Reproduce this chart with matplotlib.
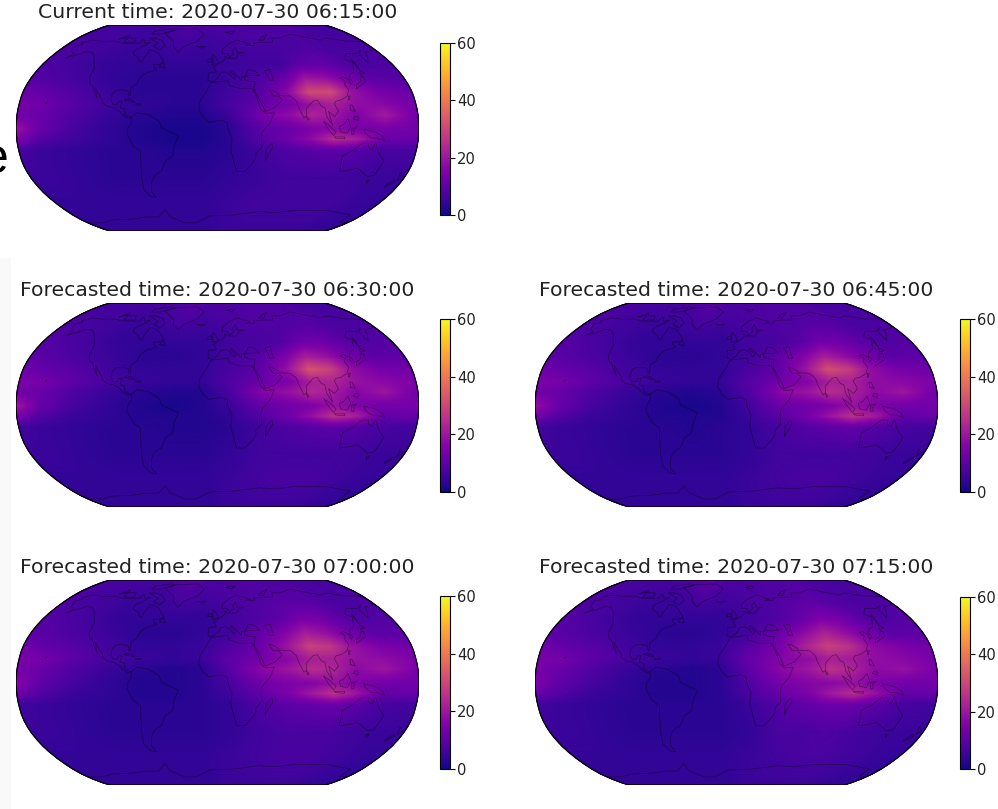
import numpy as np
import matplotlib
matplotlib.use('Agg')
import matplotlib.pyplot as plt
from matplotlib.cm import ScalarMappable
from matplotlib.colors import Normalize
from matplotlib.patches import Polygon, Rectangle

W, H = 998, 809

# grid nodes of the field tables below
grid_lons = [-180, -160, -130, -100, -70, -40, -15, 10, 40, 65, 85, 105, 125, 150, 180]
grid_lats = [90, 65, 50, 38, 28, 18, 10, -1, -9, -18, -40, -60, -90]

field_0615 = [
    [6, 6, 6, 6, 7, 9, 8, 8, 8, 8, 8, 8, 7, 6, 6],
    [7, 7, 6, 5, 5, 6, 5, 6, 7, 7, 7, 8, 7, 7, 7],
    [8, 7, 5, 4, 4, 4, 4, 5, 6, 6, 10, 11, 9, 7, 8],
    [9, 8, 6, 4, 3, 3, 3, 5, 8, 12, 21, 19, 14, 10, 9],
    [12, 11, 8, 5, 3, 3, 3, 6, 9, 17, 31, 31, 19, 14, 12],
    [14, 13, 9, 6, 4, 3, 3, 7, 11, 14, 19, 22, 18, 17, 13],
    [13, 12, 8, 5, 3, 2, 2, 5, 14, 18, 23, 20, 15, 21, 13],
    [20, 12, 7, 4, 2, 1, 1, 3, 10, 12, 15, 17, 14, 14, 13],
    [15, 9, 6, 4, 2, 1, 1, 3, 9, 13, 18, 25, 22, 12, 12],
    [7, 5, 4, 3, 3, 2, 2, 3, 6, 8, 9, 10, 9, 7, 7],
    [5, 5, 4, 3, 3, 3, 3, 4, 5, 6, 6, 6, 6, 5, 5],
    [4, 4, 4, 4, 4, 4, 4, 5, 6, 6, 6, 6, 6, 5, 4],
    [4, 4, 4, 4, 4, 4, 4, 5, 5, 5, 5, 5, 5, 4, 4],
]
field_0630 = [
    [6, 6, 7, 7, 8, 10, 8, 8, 8, 8, 8, 8, 7, 6, 6],
    [8, 7, 6, 5, 5, 7, 6, 7, 8, 8, 8, 9, 8, 7, 8],
    [9, 8, 6, 4, 4, 4, 4, 6, 7, 8, 12, 13, 10, 8, 9],
    [10, 9, 7, 5, 3, 3, 4, 6, 9, 15, 22, 19, 14, 10, 10],
    [13, 11, 9, 6, 4, 4, 4, 7, 10, 19, 33, 29, 18, 14, 13],
    [15, 14, 10, 7, 5, 4, 4, 8, 12, 15, 22, 23, 19, 17, 15],
    [13, 12, 8, 5, 3, 2, 2, 7, 16, 19, 24, 21, 16, 20, 13],
    [21, 12, 7, 4, 2, 1, 2, 5, 11, 13, 15, 19, 15, 13, 14],
    [15, 9, 5, 4, 2, 2, 2, 4, 9, 13, 19, 26, 22, 11, 12],
    [6, 5, 4, 3, 3, 2, 2, 3, 6, 8, 9, 10, 9, 7, 6],
    [5, 5, 4, 3, 3, 3, 3, 4, 6, 6, 6, 6, 6, 5, 5],
    [4, 4, 4, 4, 4, 4, 4, 5, 6, 7, 7, 7, 6, 5, 4],
    [4, 4, 4, 4, 4, 4, 4, 5, 5, 5, 5, 5, 5, 4, 4],
]
field_0645 = [
    [7, 7, 7, 7, 8, 10, 8, 8, 8, 8, 8, 8, 7, 7, 7],
    [8, 7, 6, 5, 5, 7, 6, 7, 8, 8, 9, 9, 8, 7, 8],
    [9, 8, 6, 4, 4, 4, 4, 6, 7, 9, 13, 13, 10, 8, 9],
    [10, 9, 7, 5, 3, 3, 4, 6, 10, 16, 22, 18, 14, 10, 10],
    [13, 11, 9, 6, 4, 4, 4, 7, 11, 20, 32, 28, 18, 14, 13],
    [15, 14, 10, 7, 5, 4, 4, 9, 13, 16, 22, 22, 18, 17, 15],
    [13, 12, 8, 5, 3, 2, 3, 8, 17, 20, 25, 22, 17, 20, 13],
    [19, 12, 7, 4, 2, 1, 2, 6, 12, 13, 15, 19, 15, 13, 13],
    [14, 9, 5, 4, 2, 2, 2, 5, 10, 14, 20, 26, 21, 11, 12],
    [6, 5, 4, 3, 3, 2, 3, 4, 7, 9, 10, 11, 9, 7, 6],
    [5, 5, 4, 3, 3, 3, 3, 4, 6, 6, 6, 6, 6, 5, 5],
    [4, 4, 4, 4, 4, 4, 4, 5, 6, 7, 7, 7, 6, 5, 4],
    [4, 4, 4, 4, 4, 4, 4, 5, 5, 5, 5, 5, 5, 4, 4],
]
field_0700 = [
    [7, 7, 7, 7, 8, 10, 8, 8, 8, 8, 8, 8, 7, 7, 7],
    [8, 7, 6, 5, 5, 7, 6, 7, 8, 9, 9, 9, 8, 7, 8],
    [9, 8, 6, 4, 4, 4, 4, 6, 8, 10, 14, 14, 10, 8, 9],
    [10, 9, 7, 5, 3, 3, 4, 6, 11, 16, 22, 19, 14, 10, 10],
    [13, 11, 9, 6, 4, 4, 5, 8, 12, 20, 29, 27, 19, 15, 13],
    [15, 14, 10, 7, 5, 4, 5, 10, 14, 17, 22, 22, 19, 18, 15],
    [14, 12, 8, 5, 3, 2, 3, 9, 17, 20, 25, 23, 17, 20, 14],
    [17, 11, 7, 4, 2, 2, 3, 7, 13, 15, 16, 19, 15, 13, 13],
    [13, 9, 5, 4, 2, 2, 3, 6, 11, 15, 21, 26, 20, 11, 12],
    [6, 5, 4, 3, 3, 3, 3, 4, 8, 10, 11, 12, 10, 7, 6],
    [5, 5, 4, 3, 3, 3, 3, 4, 6, 7, 7, 7, 6, 5, 5],
    [4, 4, 4, 4, 4, 4, 4, 5, 6, 7, 7, 7, 6, 5, 4],
    [4, 4, 4, 4, 4, 4, 4, 5, 5, 5, 5, 5, 5, 4, 4],
]
field_0715 = [
    [7, 7, 7, 7, 9, 11, 8, 8, 8, 8, 8, 8, 7, 7, 7],
    [8, 7, 6, 5, 5, 7, 6, 7, 8, 9, 10, 9, 8, 7, 8],
    [9, 8, 6, 4, 4, 4, 4, 6, 8, 11, 15, 14, 10, 8, 9],
    [10, 9, 7, 5, 3, 3, 4, 6, 12, 18, 23, 19, 14, 10, 10],
    [13, 11, 9, 6, 4, 4, 5, 9, 14, 23, 29, 26, 18, 15, 13],
    [14, 14, 10, 7, 5, 4, 5, 11, 16, 18, 22, 21, 18, 17, 14],
    [14, 12, 8, 5, 3, 2, 3, 10, 17, 20, 26, 23, 17, 19, 14],
    [15, 11, 7, 4, 2, 2, 3, 8, 14, 16, 17, 19, 15, 13, 13],
    [12, 9, 5, 4, 2, 2, 3, 7, 12, 15, 21, 25, 19, 11, 12],
    [6, 5, 4, 3, 3, 3, 3, 5, 9, 11, 12, 12, 10, 7, 6],
    [5, 5, 4, 3, 3, 3, 3, 4, 7, 7, 8, 7, 6, 5, 5],
    [4, 4, 4, 4, 4, 4, 4, 5, 6, 7, 7, 7, 6, 5, 4],
    [4, 4, 4, 4, 4, 4, 4, 5, 5, 5, 5, 5, 5, 4, 4],
]

titles = [
    'Current time: 2020-07-30 06:15:00',
    'Forecasted time: 2020-07-30 06:30:00',
    'Forecasted time: 2020-07-30 06:45:00',
    'Forecasted time: 2020-07-30 07:00:00',
    'Forecasted time: 2020-07-30 07:15:00',
]
fields = [field_0615, field_0630, field_0645, field_0700, field_0715]
cbar_ticks = [0, 20, 40, 60]

# coastlines, lon/lat, rough
coasts = [
    [(-168,65.5),(-162,67),(-166,68.5),(-157,71),(-141,69.7),(-128,70),(-115,68),(-108,68),(-95,68),(-94,72),(-88,68),(-82,69),(-86,66),(-94,62),(-93,58.5),(-85,55.5),(-82,52.5),(-79,51.5),(-79,55),(-77,60),(-78,62.5),(-70,61),(-65,59),(-61,56),(-56,52),(-60,50),(-66,50),(-65,48),(-61,46),(-66,44),(-70,43.5),(-74,40.5),(-76,37),(-76,35),(-81,31.5),(-80,26),(-81,25),(-83,29),(-89,30),(-94,29.5),(-97,27),(-97.5,22),(-95,18.5),(-91,18.5),(-90,21),(-87,21),(-88,16),(-83.5,15),(-83.5,11),(-80,9),(-77.5,8.5),(-80,7.5),(-85,10),(-88,13),(-94,16),(-100,17),(-105,20),(-105,22),(-109,26),(-112.5,30),(-114.5,31.5),(-110,23),(-115,29.5),(-117,32.5),(-121,35),(-124,40),(-124,47),(-128,51),(-133,56),(-140,60),(-148,60.5),(-154,58),(-163,55),(-158,58.5),(-165,61),(-168,65.5)],
    [(-77.5,8.5),(-72,12),(-62,10.5),(-52,5),(-50,0),(-44,-2.5),(-35,-6),(-39,-14),(-41,-22),(-48,-26),(-53,-34),(-58,-36),(-62,-39),(-65,-43),(-68,-50),(-65,-55),(-71,-54),(-75,-48),(-73,-38),(-70,-18),(-76,-14),(-81,-5),(-80,0),(-77,4),(-77.5,8.5)],
    [(-6,35.5),(10,37),(11,33.5),(20,31),(32,31),(34,28),(37,21),(39,15),(43,11.5),(51,12),(47,4),(40,-3),(39,-8),(40,-15),(35,-20),(35,-24),(32,-28),(26,-34),(18,-34),(12,-17),(13,-8),(9,0),(9,4),(4,6),(-4,5),(-8,4.5),(-13,8.5),(-17,14.5),(-16,21),(-10,29),(-6,35.5)],
    [(-9,37),(-9,43),(-1,44),(-4,48),(2,51),(8,54),(8,57),(11,55),(20,55),(24,59),(30,60),(22,60),(21,65),(17,61),(18,59),(13,55.5),(11,59),(5,59),(6,63),(15,68),(25,71),(40,67),(33,66),(44,66),(44,68),(55,69),(68,69),(70,73),(80,73),(100,77),(113,74),(130,71),(140,73),(160,70),(170,70),(180,69),(180,65),(177,62),(165,60),(162,56),(156,51),(156,58),(163,62),(155,59),(142,59),(135,54),(141,52),(135,44),(130,42),(127,39),(129,36),(126,34),(126,38),(122,40),(118,39),(122,37),(120,34),(122,30),(119,25),(113,22),(108,21),(106,19),(109,13),(105,9),(100,13),(103,2),(100,6),(98,9),(97,16),(94,17),(91,22),(87,21),(80,15),(80,10),(77.5,8),(73,17),(72,21),(67,25),(57,25.5),(56,27),(50,30),(48,30),(51,25),(56,25),(59,22),(52,16),(43,13),(39,21),(35,28),(34,31),(36,36),(30,36.5),(26,38),(26,40),(30,41),(41,41),(37,45),(31,46),(28,42),(26,40.5),(23,40),(23,37),(19,41),(14,45),(12.5,44),(18,40),(16,38),(12,42),(8,44),(3,43),(0,39),(-5,36),(-9,37)],
    [(47,45),(53,46),(53,40),(54,37),(50,37),(49,41),(47,45)],
    [(-73,78),(-60,82),(-30,83),(-18,77),(-25,70),(-40,65),(-44,60),(-52,65),(-55,70),(-73,78)],
    [(114,-22),(122,-18),(130,-12),(136,-12),(136,-15),(140,-17),(142,-11),(146,-19),(153,-26),(150,-37),(144,-38),(138,-35),(131,-31.5),(124,-33),(115,-34),(114,-22)],
    [(-180,-78),(-160,-78),(-140,-75),(-110,-74),(-90,-72),(-75,-72),(-62,-65),(-60,-72),(-45,-78),(-30,-78),(-10,-71),(20,-70),(50,-67),(70,-68),(90,-66),(130,-66),(165,-70),(170,-78),(180,-78)],
    [(44,-25),(50,-15),(49,-12),(44,-17),(44,-25)],
    [(-5,50),(1,51),(-2,56),(-5,58),(-5,54),(-5,50)],
    [(-10,52),(-6,52),(-6,55),(-10,54),(-10,52)],
    [(-24,65),(-14,65),(-18,63.5),(-24,65)],
    [(130,31),(136,34),(141,36),(142,40),(140,41),(136,36),(131,34),(130,31)],
    [(140,42),(145,43),(142,45.5),(140,42)],
    [(142,46),(143,52),(142,54),(142,46)],
    [(120,22),(122,25),(120,25),(120,22)],
    [(120,14),(124,13),(122,18),(120,18),(120,14)],
    [(122,7),(126,6),(126,9),(123,9),(122,7)],
    [(95,5),(100,2),(106,-3),(104,-6),(100,-2),(95,5)],
    [(105,-7),(114,-7),(114,-8.5),(106,-8),(105,-7)],
    [(109,1),(113,3),(117,7),(119,1),(116,-4),(110,-3),(109,1)],
    [(120,0),(125,1),(122,-1),(122,-5),(120,-5),(120,0)],
    [(131,-1),(141,-3),(147,-6),(150,-10),(143,-8),(138,-8),(132,-4),(131,-1)],
    [(80,9),(82,7),(80.5,6),(80,9)],
    [(173,-35),(178,-38),(175,-41),(174,-37),(173,-35)],
    [(172,-41),(174,-42),(168,-46.5),(167,-45),(172,-41)],
    [(145,-41),(148,-41),(147,-43.5),(145,-41)],
    [(-85,22),(-75,20),(-78,22),(-82,23),(-85,22)],
    [(-74,19),(-69,19),(-70,18),(-74,18),(-74,19)],
    [(-80,73),(-70,71),(-62,66),(-66,62),(-75,65),(-72,68),(-88,73),(-80,73)],
    [(-117,73),(-105,73),(-102,69),(-115,69),(-117,73)],
    [(-90,80),(-70,83),(-62,82),(-78,77),(-90,77),(-90,80)],
    [(-125,72),(-118,76),(-115,74),(-125,72)],
    [(12,79),(25,80),(20,77),(12,79)],
    [(52,71),(58,74),(68,77),(58,71),(52,71)],
    [(-59,48),(-53,47),(-56,51.5),(-59,48)],
    [(-156,19),(-155,20),(-156,20),(-156,19)],
]

# Robinson table, every 5 degrees
rob_plen = [1.0, 0.9986, 0.9954, 0.99, 0.9822, 0.973, 0.96, 0.9427, 0.9216, 0.8962,
            0.8679, 0.835, 0.7986, 0.7597, 0.7186, 0.6732, 0.6213, 0.5722, 0.5322]
rob_pdfe = [0.0, 0.062, 0.124, 0.186, 0.248, 0.31, 0.372, 0.434, 0.4958, 0.5571,
            0.6176, 0.6769, 0.7346, 0.7903, 0.8435, 0.8936, 0.9394, 0.9761, 1.0]
rob_lat = np.arange(0, 95, 5)


def robinson(lon, lat):
    lon = np.asarray(lon, dtype=float)
    lat = np.asarray(lat, dtype=float)
    x = 0.8487 * np.interp(np.abs(lat), rob_lat, rob_plen) * np.radians(lon)
    y = 1.3523 * np.interp(np.abs(lat), rob_lat, rob_pdfe) * np.sign(lat)
    return x, y


def regrid(field):
    # finer mesh for drawing, so the projected edge stays curved
    fine_lon = np.linspace(-180, 180, 361)
    fine_lat = np.linspace(90, -90, 181)
    field = np.array(field, dtype=float)
    lat_up = grid_lats[::-1]
    by_lat = np.array([np.interp(fine_lat, lat_up, field[::-1, j]) for j in range(field.shape[1])]).T
    out = np.array([np.interp(fine_lon, grid_lons, row) for row in by_lat])
    return fine_lon, fine_lat, out


def px_axes(fig, x0, y0, x1, y1):
    return fig.add_axes([x0 / W, 1 - y1 / H, (x1 - x0) / W, (y1 - y0) / H])


# map box and colourbar box for each panel, in pixels
map_boxes = [(16, 25, 419, 231), (16, 303, 419, 507), (535, 303, 938, 507),
             (16, 580, 419, 785), (535, 580, 938, 785)]
bar_boxes = [(440, 43, 450, 215), (440, 319, 450, 492), (960, 319, 970, 492),
             (440, 596, 450, 769), (960, 597, 970, 769)]

fig = plt.figure(figsize=(W / 100, H / 100), dpi=100, facecolor='white')
norm = Normalize(0, 60)
text_col = '#222222'

# grey strip from the slide behind, lower left
fig.add_artist(Rectangle((0, 0), 11 / W, 1 - 258 / H, transform=fig.transFigure,
                         facecolor='#f9f9f9', edgecolor='none'))
fig.text(9 / W, 1 - 173 / H, 'e', fontsize=36, family='Liberation Sans', ha='right', va='baseline', color='black')

for i in range(5):
    ax = px_axes(fig, *map_boxes[i])
    lon, lat, vals = regrid(fields[i])
    lon2, lat2 = np.meshgrid(lon, lat)
    xx, yy = robinson(lon2, lat2)
    ax.pcolormesh(xx, yy, vals, cmap='plasma', norm=norm, shading='gouraud', rasterized=True)

    for line in coasts:
        pts = np.array(line, dtype=float)
        cx, cy = robinson(pts[:, 0], pts[:, 1])
        ax.plot(cx, cy, color='black', lw=0.5, alpha=0.45)

    edge_lat = np.linspace(-90, 90, 181)
    ex_r, ey_r = robinson(np.full(181, 180.0), edge_lat)
    ex_l, ey_l = robinson(np.full(181, -180.0), edge_lat[::-1])
    outline = np.column_stack([np.r_[ex_r, ex_l], np.r_[ey_r, ey_l]])
    ax.add_patch(Polygon(outline, closed=True, fill=False, edgecolor='black', lw=0.9))

    ax.set_xlim(-2.6663, 2.6663)
    ax.set_ylim(-1.3523, 1.3523)
    ax.axis('off')

    bx = map_boxes[i]
    fig.text((bx[0] + bx[2]) / 2 / W, 1 - (bx[1] - 12.5) / H, titles[i], fontsize=14.7,
             ha='center', va='center', color=text_col)

    cax = px_axes(fig, *bar_boxes[i])
    cb = fig.colorbar(ScalarMappable(norm=norm, cmap='plasma'), cax=cax)
    cb.set_ticks(cbar_ticks)
    cb.ax.tick_params(labelsize=10.6, length=3.5, width=0.8, pad=1.5, labelcolor=text_col)

fig.savefig('out.png', dpi=100)
